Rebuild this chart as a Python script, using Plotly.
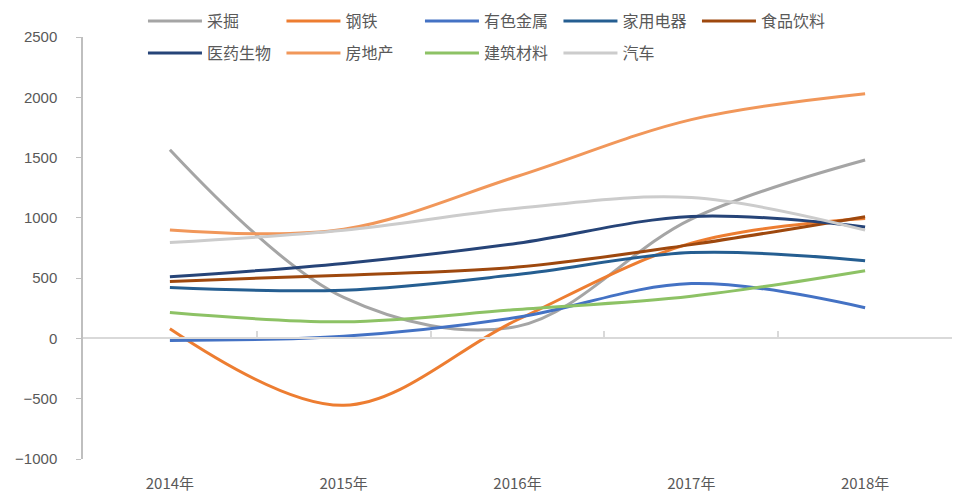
import plotly.graph_objects as go

years = ["2014年", "2015年", "2016年", "2017年", "2018年"]

caijue = [1565, 340, 100, 990, 1480]
gangtie = [80, -555, 155, 790, 995]
yousejinshu = [-17, 18, 175, 455, 255]
jiayongdianqi = [423, 400, 530, 712, 645]
shipinyinliao = [473, 525, 592, 778, 1010]
yiyaoshengwu = [512, 622, 790, 1012, 925]
fangdichan = [900, 905, 1345, 1815, 2030]
jianzhucailiao = [215, 138, 240, 350, 562]
qiche = [796, 898, 1080, 1168, 898]

series_row1 = [
    ("采掘", caijue, "#A5A5A5"),
    ("钢铁", gangtie, "#ED7D31"),
    ("有色金属", yousejinshu, "#4472C4"),
    ("家用电器", jiayongdianqi, "#255E91"),
    ("食品饮料", shipinyinliao, "#9E480E"),
]
series_row2 = [
    ("医药生物", yiyaoshengwu, "#264478"),
    ("房地产", fangdichan, "#F1975A"),
    ("建筑材料", jianzhucailiao, "#8DC265"),
    ("汽车", qiche, "#CCCCCC"),
]

fig = go.Figure()
for name, vals, color in series_row1:
    fig.add_trace(go.Scatter(x=years, y=vals, name=name, mode="lines",
                             line=dict(color=color, width=3, shape="spline", smoothing=1),
                             legend="legend"))
for i, (name, vals, color) in enumerate(series_row2):
    fig.add_trace(go.Scatter(x=years, y=vals, name=name, mode="lines",
                             line=dict(color=color, width=3, shape="spline", smoothing=1),
                             legend="legend2",
                             xaxis="x2" if i == len(series_row2) - 1 else "x"))

legend_font = dict(family="Noto Sans CJK SC", size=16, color="#595959")
legend_common = dict(orientation="h", xanchor="left", yanchor="top",
                     itemwidth=54, entrywidth=69.5, entrywidthmode="pixels",
                     font=legend_font, bgcolor="rgba(0,0,0,0)",
                     itemclick=False, traceorder="normal")
fig.update_layout(
    width=964, height=495,
    margin=dict(l=75, r=20, t=29, b=44, autoexpand=False),
    paper_bgcolor="white", plot_bgcolor="white",
    showlegend=True,
    legend=dict(x=0.069, y=1.0782, **legend_common),
    legend2=dict(x=0.069, y=1.0024, **legend_common),
    xaxis=dict(type="category", range=[-0.5, 4.5], showline=False, ticks="",
               showgrid=False, zeroline=False,
               tickfont=dict(family="Noto Sans CJK SC", size=15, color="#595959"),
               ticklabelstandoff=14),
    xaxis2=dict(type="category", overlaying="x", anchor="free", position=1000/3500,
                categoryorder="array", categoryarray=years, range=[-0.5, 4.5],
                showline=True, linecolor="#D9D9D9", linewidth=2,
                ticks="inside", tickson="boundaries", ticklen=6, tickcolor="#D9D9D9",
                tickwidth=1.5, showticklabels=False, showgrid=False, zeroline=False),
    yaxis=dict(range=[-1000, 2500], dtick=500, tick0=0, showgrid=False, zeroline=False,
               showline=True, linecolor="#BFBFBF", linewidth=1.5,
               ticks="outside", ticklen=5, tickcolor="#BFBFBF",
               tickfont=dict(family="Liberation Sans, Arial", size=15, color="#595959"),
               ticklabelstandoff=16),
    hovermode=False,
)

fig.write_html("out.html")
